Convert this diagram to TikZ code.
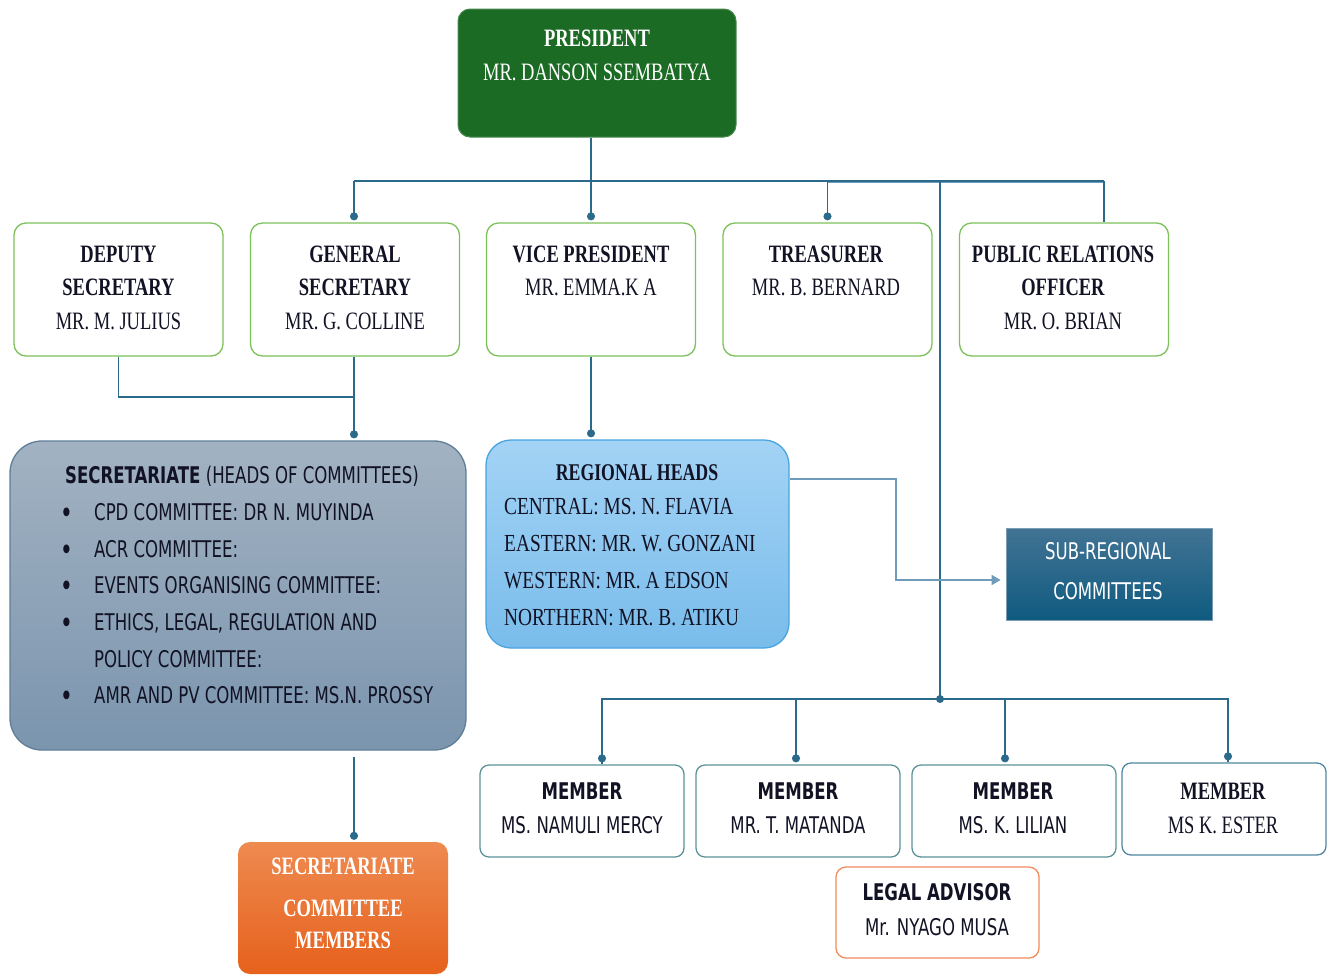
\documentclass[tikz,border=0pt]{standalone}
\usepackage{fontspec}
\usetikzlibrary{arrows.meta}
\newfontfamily\cserif[FakeStretch=0.74]{Liberation Serif}
\newfontfamily\cserifw[FakeStretch=0.79]{Liberation Serif}
\newfontfamily\csans[FakeStretch=0.72]{DejaVu Sans}
\definecolor{conn}{HTML}{2B6A8A}
\definecolor{connlight}{HTML}{6E9CBA}
\definecolor{presgreen}{HTML}{1C6B25}
\definecolor{rowgreen}{HTML}{7CC15A}
\definecolor{memteal}{HTML}{5B9298}
\definecolor{memblue}{HTML}{4F87A0}
\definecolor{legalor}{HTML}{F28A5C}
\definecolor{txt}{HTML}{121225}
\definecolor{sectop}{HTML}{A2B2C2}
\definecolor{secbot}{HTML}{7B95AE}
\definecolor{secline}{HTML}{5F7E98}
\definecolor{regtop}{HTML}{A3D3F5}
\definecolor{regbot}{HTML}{79BCEB}
\definecolor{regline}{HTML}{49A3DD}
\definecolor{subtop}{HTML}{427394}
\definecolor{subbot}{HTML}{0F5B80}
\definecolor{ortop}{HTML}{EE8A50}
\definecolor{orbot}{HTML}{E6611C}
\newcommand{\bul}{\makebox[29pt][l]{\hspace*{-4.5pt}\raisebox{-3pt}{\fontsize{30}{0}\selectfont\textbullet}}}
\begin{document}
\begin{tikzpicture}[x=1pt,y=-1pt,
  rowbox/.style={draw=rowgreen,line width=1.3pt,rounded corners=12pt,fill=white,
    minimum width=209pt,minimum height=133pt,inner sep=0pt},
  membox/.style={draw=memteal,line width=1.3pt,rounded corners=9pt,fill=white,
    minimum width=204pt,minimum height=92pt,inner sep=0pt},
  sertxt/.style={font=\cserif\fontsize{25}{33.5}\selectfont,text=txt,align=center,inner sep=0pt,anchor=north},
  santxt/.style={font=\csans\fontsize{23}{34}\selectfont,text=txt,align=center,inner sep=0pt,anchor=north},
  line/.style={draw=conn,line width=1.4pt},
  dotend/.style={line,-{Circle[length=8pt,width=8pt]},shorten >=2pt},
]
\useasboundingbox (0,0) rectangle (1332,975);

% ---------- boxes ----------
\node[draw=presgreen!80!white,fill=presgreen,line width=1pt,rounded corners=12pt,
  minimum width=278pt,minimum height=128pt,inner sep=0pt] (pres) at (597,73) {};
\node[rowbox] (dep) at (118.5,289.5) {};
\node[rowbox] (gen) at (355,289.5) {};
\node[rowbox] (vp) at (591,289.5) {};
\node[rowbox] (tre) at (827.5,289.5) {};
\node[rowbox] (pro) at (1064,289.5) {};
\node[draw=secline,line width=1.3pt,rounded corners=32pt,top color=sectop,bottom color=secbot,
  minimum width=456pt,minimum height=309pt,inner sep=0pt] (sec) at (238,595.5) {};
\node[draw=regline,line width=1.3pt,rounded corners=25pt,top color=regtop,bottom color=regbot,
  minimum width=303pt,minimum height=208pt,inner sep=0pt] (reg) at (637.5,544) {};
\node[draw=subtop!70!white,line width=0.8pt,top color=subtop,bottom color=subbot,
  minimum width=206pt,minimum height=92pt,inner sep=0pt] (sub) at (1109,574) {};
\node[top color=ortop,bottom color=orbot,rounded corners=12pt,
  minimum width=210pt,minimum height=132pt,inner sep=0pt] (orb) at (343,908) {};
\node[membox] (m1) at (582,811) {};
\node[membox] (m2) at (798,811) {};
\node[membox] (m3) at (1014,811) {};
\node[membox,draw=memblue] (m4) at (1224,809) {};
\node[draw=legalor,line width=1.3pt,rounded corners=10pt,fill=white,
  minimum width=203pt,minimum height=91pt,inner sep=0pt] (leg) at (937.5,912.5) {};

% ---------- texts ----------
\node[sertxt,text=white,font=\cserif\fontsize{25}{34}\selectfont] (prest) at (597,29.5)
  {\textbf{PRESIDENT}\\MR. DANSON SSEMBATYA};
\node[sertxt] (dept) at (118.5,245.5) {\textbf{DEPUTY}\\\textbf{SECRETARY}\\MR. M. JULIUS};
\node[sertxt] (gent) at (355,245.5) {\textbf{GENERAL}\\\textbf{SECRETARY}\\MR. G. COLLINE};
\node[sertxt] (vpt) at (591,245.5) {\textbf{VICE PRESIDENT}\\MR. EMMA.K A};
\node[sertxt] (tret) at (826,245.5) {\textbf{TREASURER}\\MR. B. BERNARD};
\node[sertxt] (prot) at (1063,245.5) {\textbf{PUBLIC RELATIONS}\\\textbf{OFFICER}\\MR. O. BRIAN};

\node[santxt,align=left,anchor=north west,font=\csans\fontsize{23}{36.7}\selectfont] (sect) at (65,466)
  {\textbf{SECRETARIATE} (HEADS OF COMMITTEES)\\
   \bul CPD COMMITTEE: DR N. MUYINDA\\
   \bul ACR COMMITTEE:\\
   \bul EVENTS ORGANISING COMMITTEE:\\
   \bul ETHICS, LEGAL, REGULATION AND\\
   \hspace*{29pt}POLICY COMMITTEE:\\
   \bul AMR AND PV COMMITTEE: MS.N. PROSSY};

\node[sertxt,font=\cserif\fontsize{24}{36.7}\selectfont] (regt) at (637,464) {\textbf{REGIONAL HEADS}};
\node[sertxt,align=left,anchor=north west,font=\cserifw\fontsize{24.5}{36.7}\selectfont] (regl) at (504,498.5)
  {CENTRAL: MS. N. FLAVIA\\EASTERN: MR. W. GONZANI\\WESTERN: MR. A EDSON\\NORTHERN: MR. B. ATIKU};

\node[santxt,text=white,font=\csans\fontsize{23}{40}\selectfont] (subt) at (1108,542.5)
  {SUB-REGIONAL\\COMMITTEES};

\node[sertxt,text=white,font=\cserif\fontsize{25}{32}\selectfont] (orbt) at (343,857.5)
  {\textbf{SECRETARIATE}\\[10pt]\textbf{COMMITTEE}\\\textbf{MEMBERS}};

\node[santxt] (m1t) at (582,782.5) {\textbf{MEMBER}\\MS. NAMULI MERCY};
\node[santxt] (m2t) at (798,782.5) {\textbf{MEMBER}\\MR. T. MATANDA};
\node[santxt] (m3t) at (1013,782.5) {\textbf{MEMBER}\\MS. K. LILIAN};
\node[sertxt,font=\cserif\fontsize{25}{34}\selectfont] (m4t) at (1223,782.5) {\textbf{MEMBER}\\MS K. ESTER};
\node[santxt,font=\csans\fontsize{23}{35}\selectfont] (legt) at (937,883.5) {\textbf{LEGAL ADVISOR}\\Mr. NYAGO MUSA};

% ---------- connectors ----------
\coordinate (bus) at (590,181);
\coordinate (busL) at (354,181);
\coordinate (busR) at (1104,181);
\coordinate (mbus) at (940,699);
\coordinate (j1) at (354,397);
\coordinate (bend) at (896,530);

\draw[draw=connlight,line width=1.6pt] (tre.north |- 0,182.5) -- (busR |- 0,182.5);
\draw[line] (busL) -- (busR);
\draw[dotend] (vp.north |- pres.south) -- (vp.north);
\draw[dotend] (busL) -- (gen.north -| busL);
\draw[dotend] (tre.north |- bus) -- (tre.north);
\draw[line] (busR) -- (pro.north -| busR);
\draw[line] (940,181) -- (mbus);
\draw[line] (m1.north -| 602,0) |- (mbus) -| (m4.north -| 1228,0);
\fill[conn] (mbus) circle (4pt);
\draw[dotend] (602,699) -- (m1.north -| 602,0);
\draw[dotend] (796,699) -- (m2.north -| 796,0);
\draw[dotend] (1005,699) -- (m3.north -| 1005,0);
\draw[dotend] (1228,699) -- (m4.north -| 1228,0);

\draw[line] (dep.south) |- (j1);
\draw[dotend] (gen.south -| j1) -- (sec.north -| j1);
\draw[dotend] ([yshift=-6pt]sec.south -| j1) -- (orb.north -| j1);
\draw[dotend] (vp.south) -- (reg.north -| vp.south);

\draw[draw=connlight,line width=1.5pt,-{Triangle[length=9pt,width=10pt]},shorten >=5pt]
  ([yshift=65pt]reg.east) -| (bend) |- ([yshift=-6pt]sub.west);
\end{tikzpicture}
\end{document}
